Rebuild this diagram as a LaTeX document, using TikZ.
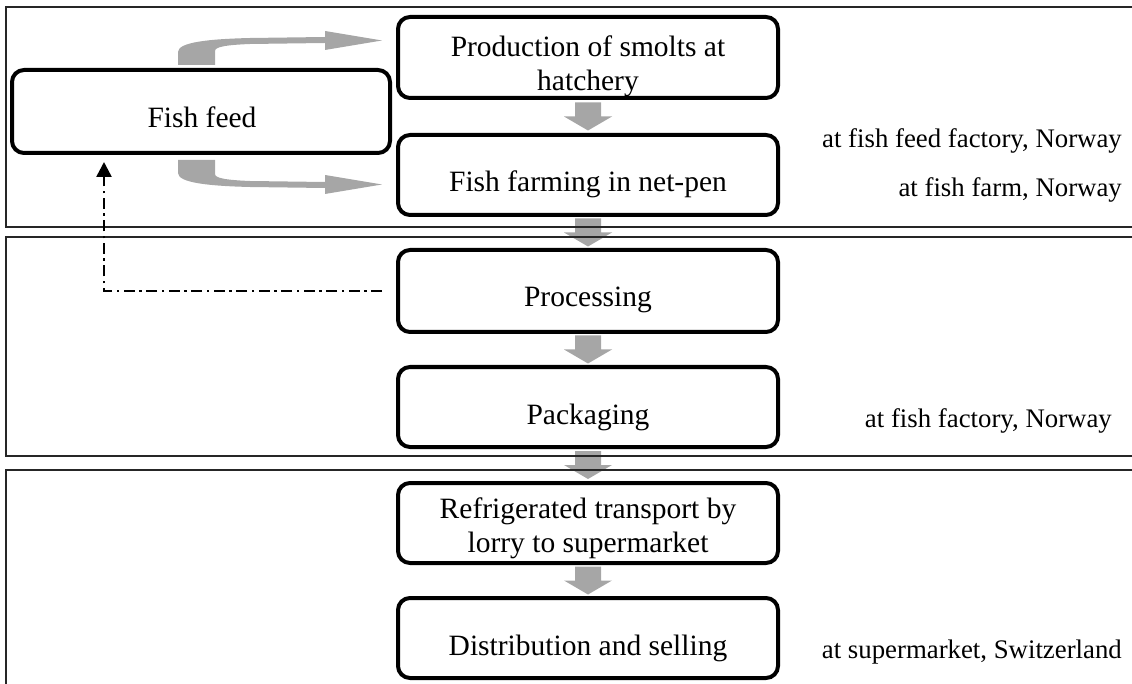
\documentclass[tikz,border=0pt]{standalone}
\usepackage{fontspec}
\setmainfont{Liberation Serif}
\usetikzlibrary{calc,arrows.meta}
\begin{document}
\begin{tikzpicture}[x=1pt,y=-1pt,
  panel/.style={draw=black!85, line width=1.8pt},
  stagebox/.style={draw, line width=4pt, rounded corners=12pt, minimum width=380pt, minimum height=80pt, inner sep=0pt},
  boxtext/.style={font=\fontsize{29.5}{34}\selectfont, anchor=base, inner sep=0pt},
  sitetext/.style={font=\fontsize{26.8}{30}\selectfont, anchor=base east, inner sep=0pt},
  fatgray/.style={fill=black!35},
  feedback/.style={line width=2.5pt, dash pattern=on 11pt off 4.5pt on 2.5pt off 4.5pt, -{Triangle[width=15pt,length=15pt]}},
  fatarrow/.pic={\fill[fatgray] (-13,-14) -- (13,-14) -- (13,0) -- (24,0) -- (0,14) -- (-24,0) -- (-13,0) -- cycle;}
]
\useasboundingbox (0,0) rectangle (1132,684);
\begin{scope}
\clip (0,0) rectangle (1132,684);
% texts
\node[boxtext] (tfeed) at (202,128) {Fish feed};
\node[boxtext] (tprod1) at (588,57) {Production of smolts at};
\node[boxtext] (tprod2) at (588,91) {hatchery};
\node[boxtext] (tfarm) at (588,192) {Fish farming in net-pen};
\node[boxtext] (tproc) at (588,307) {Processing};
\node[boxtext] (tpack) at (588,424) {Packaging};
\node[boxtext] (trefr1) at (588,518) {Refrigerated transport by};
\node[boxtext] (trefr2) at (588,552) {lorry to supermarket};
\node[boxtext] (tdist) at (588,655) {Distribution and selling};
\node[sitetext] (s1) at (1122,148) {at fish feed factory, Norway};
\node[sitetext] (s2) at (1122,197) {at fish farm, Norway};
\node[sitetext] (s3) at (1112,427) {at fish factory, Norway};
\node[sitetext] (s4) at (1122,658) {at supermarket, Switzerland};
% boxes
\node[stagebox, minimum width=378pt, minimum height=83pt] (feed) at (201,111.5) {};
\node[stagebox, minimum height=81pt] (prod) at (588,57.5) {};
\node[stagebox] (farm) at (588,175) {};
\node[stagebox, minimum height=82pt] (proc) at (588,291) {};
\node[stagebox] (pack) at (588,407) {};
\node[stagebox] (refr) at (588,523) {};
\node[stagebox] (dist) at (588,638) {};
% straight gray arrows
\pic at ($(prod.south)!0.5!(farm.north)$) {fatarrow};
\pic at ($(farm.south)!0.5!(proc.north)$) {fatarrow};
\pic at ($(proc.south)!0.5!(pack.north)$) {fatarrow};
\pic at ($(pack.south)!0.5!(refr.north)$) {fatarrow};
\pic at ($(refr.south)!0.5!(dist.north)$) {fatarrow};
% curved gray arrows from fish feed
\fill[fatgray] (178,65) -- (178,52) .. controls (178,42) and (210,39) .. (250,38) -- (325,37) -- (325,31) -- (382,40.5) -- (325,50) -- (325,43) -- (250,44) .. controls (225,45) and (215,47) .. (215,51) -- (215,65) -- cycle;
\fill[fatgray] (178,160) -- (178,173) .. controls (178,183) and (210,186) .. (250,187) -- (325,188) -- (325,194) -- (382,184.5) -- (325,175) -- (325,182) -- (250,181) .. controls (225,180) and (215,178) .. (215,174) -- (215,160) -- cycle;
% panels
\draw[panel] (6,7) rectangle (1145,227);
\draw[panel] (6,237) rectangle (1145,456);
\draw[panel] (6,470) rectangle (1145,700);
% feedback
\draw[feedback, shorten <=14pt, shorten >=7pt] (proc.west) -| ([xshift=-97pt]feed.south);
\end{scope}
\end{tikzpicture}
\end{document}
